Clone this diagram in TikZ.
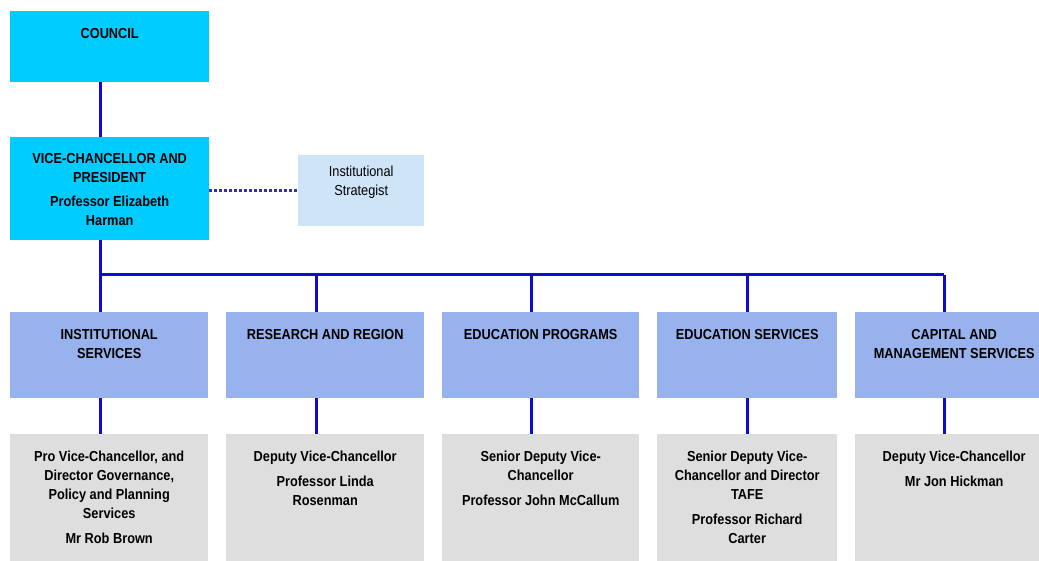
\documentclass[tikz,border=0pt]{standalone}
\usepackage{fontspec}
\setmainfont{Liberation Sans}[FakeStretch=0.88]

\tikzset{
    box/.style={rectangle, inner sep=0pt, anchor=north west},
    headbox/.style={box, fill=headcol, minimum width=199pt},
    divbox/.style={box, fill=divcol, minimum height=86pt},
    whobox/.style={box, fill=whocol, minimum height=140pt},
    txt/.style={inner sep=0pt, align=center, anchor=north,
        font=\fontsize{14.5}{19}\selectfont\bfseries},
    link/.style={draw=linecol, line width=3pt},
}

\begin{document}
\begin{tikzpicture}[x=1pt, y=-1pt]
    \definecolor{headcol}{RGB}{0,204,255}
    \definecolor{stratcol}{RGB}{206,228,247}
    \definecolor{divcol}{RGB}{152,178,238}
    \definecolor{whocol}{RGB}{222,222,222}
    \definecolor{linecol}{RGB}{12,12,210}
    \definecolor{dotcol}{RGB}{50,50,170}

    \useasboundingbox (0,0) rectangle (1039,561);
    \clip (0,0) rectangle (1039,561);

    % top of the tree
    \node[headbox, minimum height=71pt] (council) at (10,11) {};
    \node[txt] at ([yshift=-17pt]council.north) {COUNCIL};

    \node[headbox, minimum height=103pt] (vc) at (10,137) {};
    \node[txt] at ([yshift=-16pt]vc.north)
        {VICE-CHANCELLOR AND\\PRESIDENT\\[5pt]Professor Elizabeth\\Harman};

    \node[box, fill=stratcol, minimum width=126pt, minimum height=71pt] (strat) at (298,155) {};
    \node[txt, font=\fontsize{14.5}{19}\selectfont] at ([yshift=-11pt]strat.north)
        {Institutional\\Strategist};

    % divisions and their heads
    \foreach \n/\x/\w/\head/\who in {
        1/10/198/{INSTITUTIONAL\\SERVICES}/{Pro Vice-Chancellor, and\\Director Governance,\\Policy and Planning\\Services\\[6pt]Mr Rob Brown},
        2/226/198/{RESEARCH AND REGION}/{Deputy Vice-Chancellor\\[6pt]Professor Linda\\Rosenman},
        3/442/197/{EDUCATION PROGRAMS}/{Senior Deputy Vice-\\Chancellor\\[6pt]Professor John McCallum},
        4/657/180/{EDUCATION SERVICES}/{Senior Deputy Vice-\\Chancellor and Director\\TAFE\\[6pt]Professor Richard\\Carter},
        5/855/198/{CAPITAL AND\\MANAGEMENT SERVICES}/{Deputy Vice-Chancellor\\[6pt]Mr Jon Hickman}} {
        \node[divbox, minimum width=\w pt] (div\n) at (\x,312) {};
        \node[txt] at ([yshift=-17pt]div\n.north) {\head};
        \node[whobox, minimum width=\w pt] (who\n) at (\x,434) {};
        \node[txt] at ([yshift=-17pt]who\n.north) {\who};
    }

    % connectors
    \coordinate (bus) at (0,275);
    \draw[link] ([xshift=-9.5pt]council.south) -- ([xshift=-9.5pt]vc.north);
    \draw[link] ([xshift=-9.5pt]vc.south) -- ([xshift=-9.5pt]vc.south |- bus)
        -- ([xshift=-10pt]div5.north |- bus);
    \foreach \n/\dx in {1/-9,2/-9,3/-9.5,4/0,5/-10} {
        \draw[link] ([xshift=\dx pt]div\n.north) -- ([xshift=\dx pt]div\n.north |- bus);
        \draw[link] ([xshift=\dx pt]div\n.south) -- ([xshift=\dx pt]who\n.north);
    }
    \draw[dotcol, line width=2.5pt, dash pattern=on 3pt off 2pt]
        (vc.east |- strat.west) -- (strat.west);
\end{tikzpicture}
\end{document}
